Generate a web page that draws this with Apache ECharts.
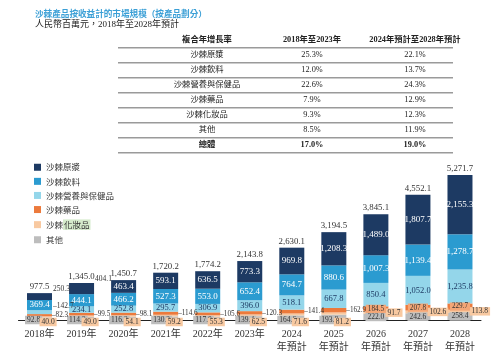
<!DOCTYPE html>
<html><head><meta charset="utf-8">
<script src="https://cdn.jsdelivr.net/npm/echarts@6/dist/echarts.min.js"></script>
<style>html,body{margin:0;padding:0;background:#fff}#c{width:500px;height:360px}</style>
</head><body><div id="c"></div>
<script>
// ---- data ----
const categories = ['2018年','2019年','2020年','2021年','2022年','2023年','2024\n年預計','2025\n年預計','2026\n年預計','2027\n年預計','2028\n年預計'];
const seriesNames = ['沙棘原漿','沙棘飲料','沙棘營養與保健品','沙棘藥品','沙棘化妝品','其他'];
const puree     = [250.3,404.1,463.4,593.1,636.5,773.3,969.8,1208.3,1489.0,1807.7,2155.3];
const beverage  = [369.4,444.1,466.2,527.3,553.0,652.4,764.7,880.6,1007.3,1139.4,1278.7];
const nutrition = [142.7,234.1,252.8,295.7,306.9,396.0,518.1,667.8,850.4,1052.0,1235.8];
const medicine  = [82.3,99.5,98.1,114.6,105.6,120.3,141.4,162.9,184.5,207.8,229.7];
const cosmetics = [40.0,49.0,54.1,59.2,55.3,62.5,71.6,81.2,91.7,102.6,113.8];
const others    = [92.8,114.3,116.2,130.2,117.0,139.4,164.6,193.8,222.0,242.6,258.4];
const totals    = [977.5,1345.0,1450.7,1720.2,1774.2,2143.8,2630.1,3194.5,3845.1,4552.1,5271.7];
const titleText = '沙棘產品按收益計的市場規模（按產品劃分）';
const subtitleText = '人民幣百萬元，2018年至2028年預計';
const tableHeaders = ['複合年增長率','2018年至2023年','2024年預計至2028年預計'];
const tableRows = ['沙棘原漿','沙棘飲料','沙棘營養與保健品','沙棘藥品','沙棘化妝品','其他','總體'];
const cagrHist  = ['25.3%','12.0%','22.6%','7.9%','9.3%','8.5%','17.0%'];
const cagrFcst  = ['22.1%','13.7%','24.3%','12.9%','12.3%','11.9%','19.0%'];

// ---- style ----
const SERIF = "'Liberation Serif','Noto Sans CJK TC',serif";
const CJK = "'Noto Sans CJK TC','Liberation Serif',sans-serif";
const C = {navy:'#1d3a63', blue:'#2b9bd0', cyan:'#94d6ea', orange:'#ec7a3c', lorange:'#f8c9a1', gray:'#bdbdbd'};
const GRID_BOTTOM = 40, GRID_TOP = 155;
const BASE_Y = 360 - GRID_BOTTOM;
const BW = 25;
const fmt = v => Number(v).toLocaleString('en-US',{minimumFractionDigits:1,maximumFractionDigits:1});
const fmtP = p => fmt(typeof p.value === 'object' ? p.value.value : p.value);

const chart = echarts.init(document.getElementById('c'), null, {renderer:'canvas'});

// table graphics
const graphics = [];
graphics.push({type:'text', left:35, top:9, style:{text:titleText, fill:'#3a9fd6', font:"bold 8.6px " + CJK}});
graphics.push({type:'text', left:35, top:20, style:{text:subtitleText, fill:'#222', font:"9px " + SERIF}});
const colX = [207, 312, 415];
const LX1 = 118, LX2 = 453, LY0 = 47.7, RH = 15;
tableHeaders.forEach((h,i)=>{
  graphics.push({type:'text', x:colX[i], y:39.5, style:{text:h, fill:'#222', font:"bold 8.3px " + SERIF, align:'center', verticalAlign:'middle'}});
});
for (let k=0;k<=tableRows.length;k++){
  graphics.push({type:'line', shape:{x1:LX1, y1:LY0+RH*k, x2:LX2, y2:LY0+RH*k}, style:{stroke:'#9a9a9a', lineWidth:1.5}});
}
tableRows.forEach((r,k)=>{
  const bold = k === tableRows.length-1 ? 'bold ' : '';
  const y = LY0 + RH*k + RH/2;
  [r, cagrHist[k], cagrFcst[k]].forEach((t,i)=>{
    graphics.push({type:'text', x:colX[i], y:y, style:{text:t, fill:'#222', font:bold + "8.3px " + SERIF, align:'center', verticalAlign:'middle'}});
  });
});

const baseLabel = {fontFamily:SERIF, fontSize:8.5};

const series = [
  { name:'其他', type:'bar', stack:'s', barWidth:BW, itemStyle:{color:C.gray},
    label:Object.assign({}, baseLabel, {show:true, formatter:fmtP, color:'#333', fontSize:7.5, backgroundColor:C.gray, padding:[1,2,0,2], position:[-2,'100%'], align:'left', verticalAlign:'middle'}),
    data: others.map((v,i)=> i>=8 ? {value:v, label:{position:'inside', align:'center', verticalAlign:'middle'}} : v)
  },
  { name:'沙棘化妝品', type:'bar', stack:'s', barWidth:BW, itemStyle:{color:C.lorange},
    label:Object.assign({}, baseLabel, {show:true, formatter:fmtP, color:'#333', fontSize:7.5, backgroundColor:C.lorange, padding:[1,2,0,2], position:['50%','100%'], align:'left', verticalAlign:'middle'}),
    labelLayout: function(p){ if (p.dataIndex < 8) return {y: BASE_Y + 2, verticalAlign:'middle'}; return {}; },
    data: cosmetics.map((v,i)=> i>=8 ? {value:v, label:{position:'right', distance:-3, align:'left', verticalAlign:'middle'}} : v)
  },
  { name:'沙棘藥品', type:'bar', stack:'s', barWidth:BW, itemStyle:{color:C.orange},
    label:Object.assign({}, baseLabel, {show:true, formatter:p=>'–'+fmtP(p), color:'#333', fontSize:7.2, position:'right', distance:0}),
    data: medicine.map((v,i)=> i>=8 ? {value:v, label:{position:'inside', formatter:fmtP, backgroundColor:'#f4a676', padding:[1,2,0,2]}} : v)
  },
  { name:'沙棘營養與保健品', type:'bar', stack:'s', barWidth:BW, itemStyle:{color:C.cyan},
    label:Object.assign({}, baseLabel, {show:true, formatter:fmtP, color:C.navy, position:'inside'}),
    data: nutrition.map((v,i)=> i===0 ? {value:v, label:{position:'right', distance:1, offset:[0,-6], fontSize:7.5, color:'#333', formatter:p=>'–'+fmtP(p)}} : v)
  },
  { name:'沙棘飲料', type:'bar', stack:'s', barWidth:BW, itemStyle:{color:C.blue},
    label:Object.assign({}, baseLabel, {show:true, formatter:fmtP, color:'#fff', position:'inside', fontSize:9}),
    data: beverage
  },
  { name:'沙棘原漿', type:'bar', stack:'s', barWidth:BW, itemStyle:{color:C.navy},
    label:Object.assign({}, baseLabel, {show:true, formatter:fmtP, color:'#fff', position:'inside', fontSize:9}),
    data: puree.map((v,i)=> i<=1 ? {value:v, label:{position:['100%',0], align:'left', verticalAlign:'bottom', offset:[1,0], color:'#333', fontSize:7.5}} : v)
  },
  { name:'總計', type:'bar', barWidth:BW, barGap:'-100%', itemStyle:{color:'rgba(0,0,0,0)'}, silent:true, z:1,
    label:Object.assign({}, baseLabel, {show:true, formatter:fmtP, color:'#333', position:'top', distance:2, fontSize:8.8}),
    data: totals
  }
];

chart.setOption({
  animation:false,
  backgroundColor:'#fff',
  graphic: graphics,
  legend: {
    data: seriesNames, orient:'vertical', left:29, top:158, itemWidth:7, itemHeight:7, itemGap:5.6, icon:'rect',
    textStyle:{fontFamily:CJK, fontSize:8.5, color:'#333', rich:{h:{fontFamily:CJK, fontSize:8.5, color:'#333', backgroundColor:'#d5ebcc', padding:[1,1]}}},
    formatter: n => n === '沙棘化妝品' ? '沙棘{h|化妝品}' : n,
    selectedMode:false
  },
  grid: {left:18.5, right:19, top:GRID_TOP, bottom:GRID_BOTTOM, containLabel:false},
  xAxis: {type:'category', data:categories, axisLine:{lineStyle:{color:'#222', width:1}}, axisTick:{show:false},
    axisLabel:{fontFamily:SERIF, fontSize:10, color:'#333', lineHeight:13, margin:8, interval:0}},
  yAxis: {type:'value', min:0, max:6000, show:false, splitLine:{show:false}},
  series: series
});
</script>
</body></html>
